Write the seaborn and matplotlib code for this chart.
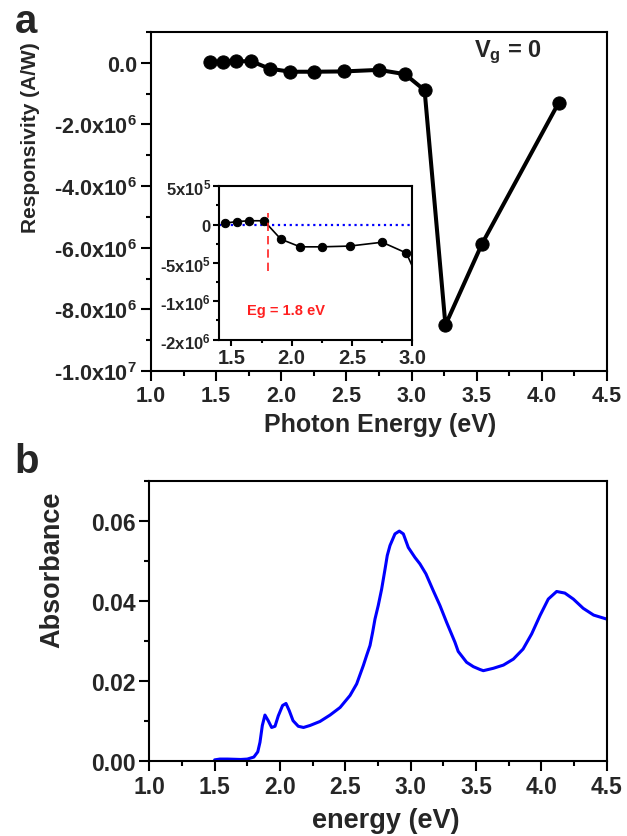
import matplotlib
matplotlib.use("Agg")
import matplotlib.pyplot as plt
from matplotlib.ticker import MultipleLocator, FormatStrFormatter, FixedLocator, FixedFormatter
import seaborn as sns
import pandas as pd

# ---------------- data ----------------
# panel a: responsivity vs photon energy
energy_a = [1.45, 1.55, 1.65, 1.77, 1.91, 2.07, 2.25, 2.48, 2.75, 2.95, 3.10, 3.26, 3.54, 4.13]
resp_a = [0.02e6, 0.04e6, 0.05e6, 0.05e6, -0.19e6, -0.29e6, -0.29e6, -0.28e6,
          -0.23e6, -0.37e6, -0.89e6, -8.51e6, -5.88e6, -1.29e6]
main_yticks = [-1.0e7, -8.0e6, -6.0e6, -4.0e6, -2.0e6, 0.0]
main_yticklabels = ["-1.0x10$^{7}$", "-8.0x10$^{6}$", "-6.0x10$^{6}$",
                    "-4.0x10$^{6}$", "-2.0x10$^{6}$", "0.0"]
inset_yticks = [-1.5e6, -1.0e6, -5e5, 0.0, 5e5]
inset_yticklabels = ["-2x10$^{6}$", "-1x10$^{6}$", "-5x10$^{5}$", "0", "5x10$^{5}$"]
eg_energy = 1.8
eg_span = (1.5e5, -6.0e5)
eg_text = "Eg = 1.8 eV"
vg_text = "V$_{g}$ = 0"

# panel b: absorbance spectrum
energy_b = [1.50, 1.54, 1.60, 1.70, 1.75, 1.80, 1.83, 1.847, 1.865, 1.885, 1.91, 1.936,
            1.962, 1.987, 2.02, 2.046, 2.071, 2.10, 2.14, 2.18, 2.23, 2.306, 2.383, 2.46,
            2.536, 2.587, 2.638, 2.663, 2.689, 2.709, 2.727, 2.752, 2.778, 2.804, 2.821,
            2.842, 2.88, 2.913, 2.944, 2.982, 3.033, 3.071, 3.117, 3.173, 3.224, 3.275,
            3.339, 3.364, 3.428, 3.48, 3.53, 3.556, 3.633, 3.71, 3.786, 3.86, 3.926, 3.99,
            4.053, 4.117, 4.18, 4.245, 4.32, 4.40, 4.50]
absorb_b = [0.0002, 0.0004, 0.0004, 0.0003, 0.0004, 0.0009, 0.0022, 0.0046, 0.0088, 0.0114,
            0.0100, 0.0083, 0.0086, 0.0112, 0.0138, 0.0143, 0.0125, 0.0100, 0.0086, 0.0083,
            0.0088, 0.0098, 0.0114, 0.0133, 0.0163, 0.0192, 0.0238, 0.0263, 0.0288, 0.0321,
            0.0354, 0.0388, 0.0429, 0.0479, 0.0513, 0.0538, 0.0567, 0.0574, 0.0567, 0.0533,
            0.0508, 0.0492, 0.0467, 0.0425, 0.0388, 0.0346, 0.0296, 0.0273, 0.0246, 0.0235,
            0.0228, 0.0225, 0.0231, 0.0239, 0.0254, 0.0279, 0.0317, 0.0363, 0.0404, 0.0423,
            0.0419, 0.0404, 0.0381, 0.0364, 0.0354]

df_a = pd.DataFrame({"energy": energy_a, "resp": resp_a})
df_b = pd.DataFrame({"energy": energy_b, "absorb": absorb_b})

# ---------------- style ----------------
sns.set_style("ticks")
plt.rcParams["font.family"] = ["Liberation Sans", "DejaVu Sans"]
plt.rcParams["font.weight"] = "bold"
plt.rcParams["axes.labelweight"] = "bold"
plt.rcParams["mathtext.default"] = "regular"
plt.rcParams["axes.linewidth"] = 1.5

fig = plt.figure(figsize=(6.27, 8.37), dpi=100)


def style_ticks(ax, size, length=7):
    ax.tick_params(which="major", direction="out", length=length, width=1.5,
                   labelsize=size, pad=3, color="black", top=False, right=False)
    ax.tick_params(which="minor", direction="out", length=length * 0.55, width=1.5,
                   color="black", top=False, right=False)
    for s in ax.spines.values():
        s.set_visible(True)
        s.set_color("black")
        s.set_linewidth(1.5)


# ---------------- panel a ----------------
ax_a = fig.add_axes([0.2408, 0.5556, 0.7273, 0.405])
sns.lineplot(data=df_a, x="energy", y="resp", ax=ax_a, color="black", linewidth=2.9,
             marker="o", markersize=9.5, markeredgecolor="black", markerfacecolor="black",
             sort=False)
ax_a.set_xlim(1.0, 4.5)
ax_a.set_ylim(-1.0e7, 1.0e6)
ax_a.xaxis.set_major_locator(MultipleLocator(0.5))
ax_a.xaxis.set_minor_locator(MultipleLocator(0.25))
ax_a.xaxis.set_major_formatter(FormatStrFormatter("%.1f"))
ax_a.yaxis.set_major_locator(FixedLocator(main_yticks))
ax_a.yaxis.set_major_formatter(FixedFormatter(main_yticklabels))
ax_a.yaxis.set_minor_locator(MultipleLocator(1.0e6))
style_ticks(ax_a, 15.5)
ax_a.set_xlabel("Photon Energy (eV)", fontsize=18, fontweight="bold")
ax_a.set_ylabel("Responsivity (A/W)", fontsize=15, fontweight="bold")
ax_a.xaxis.set_label_coords(0.502, -0.122)
ax_a.yaxis.set_label_coords(-0.243, 0.69)
ax_a.text(3.74, 0.37e6, vg_text, fontsize=17, fontweight="bold", ha="center", va="center")

# inset
ax_in = fig.add_axes([0.3498, 0.5930, 0.3078, 0.1833])
ax_in.axhline(0, color="blue", linestyle=":", linewidth=1.6, zorder=1)
sns.lineplot(data=df_a, x="energy", y="resp", ax=ax_in, color="black", linewidth=1.2,
             marker="o", markersize=6, markeredgecolor="black", markerfacecolor="black",
             sort=False, zorder=3)
ax_in.vlines(eg_energy, eg_span[1], eg_span[0], colors="#ff2020", linestyles=(0, (5, 3)),
             linewidth=1.2, zorder=4)
ax_in.set_xlim(1.4, 3.0)
ax_in.set_ylim(-1.5e6, 5e5)
ax_in.xaxis.set_major_locator(MultipleLocator(0.5))
ax_in.xaxis.set_minor_locator(MultipleLocator(0.25))
ax_in.xaxis.set_major_formatter(FormatStrFormatter("%.1f"))
ax_in.yaxis.set_major_locator(FixedLocator(inset_yticks))
ax_in.yaxis.set_major_formatter(FixedFormatter(inset_yticklabels))
ax_in.yaxis.set_minor_locator(MultipleLocator(2.5e5))
style_ticks(ax_in, 14.5, length=4)
ax_in.tick_params(axis="y", labelsize=12, pad=2)
ax_in.tick_params(axis="x", pad=2)
ax_in.set_xlabel("")
ax_in.set_ylabel("")
ax_in.text(1.63, -1.11e6, eg_text, color="#ff2020", fontsize=10.5, fontweight="bold",
           ha="left", va="center")

# ---------------- panel b ----------------
ax_b = fig.add_axes([0.2381, 0.09, 0.7295, 0.3345])
sns.lineplot(data=df_b, x="energy", y="absorb", ax=ax_b, color="#0000ff", linewidth=2.2,
             sort=False)
ax_b.set_xlim(1.0, 4.5)
ax_b.set_ylim(0.0, 0.07)
ax_b.xaxis.set_major_locator(MultipleLocator(0.5))
ax_b.xaxis.set_minor_locator(MultipleLocator(0.25))
ax_b.xaxis.set_major_formatter(FormatStrFormatter("%.1f"))
ax_b.yaxis.set_major_locator(MultipleLocator(0.02))
ax_b.yaxis.set_minor_locator(MultipleLocator(0.01))
ax_b.yaxis.set_major_formatter(FormatStrFormatter("%.2f"))
style_ticks(ax_b, 16.5)
ax_b.set_xlabel("energy (eV)", fontsize=19.5, fontweight="bold")
ax_b.set_ylabel("Absorbance", fontsize=19.5, fontweight="bold")
ax_b.xaxis.set_label_coords(0.5175, -0.165)
ax_b.yaxis.set_label_coords(-0.184, 0.685)

# panel letters
fig.text(15 / 627, 1 - 33 / 837, "a", fontsize=29, fontweight="bold", ha="left", va="baseline")
fig.text(14 / 627, 1 - 473 / 837, "b", fontsize=29, fontweight="bold", ha="left", va="baseline")

fig.savefig("out.png", dpi=100)
